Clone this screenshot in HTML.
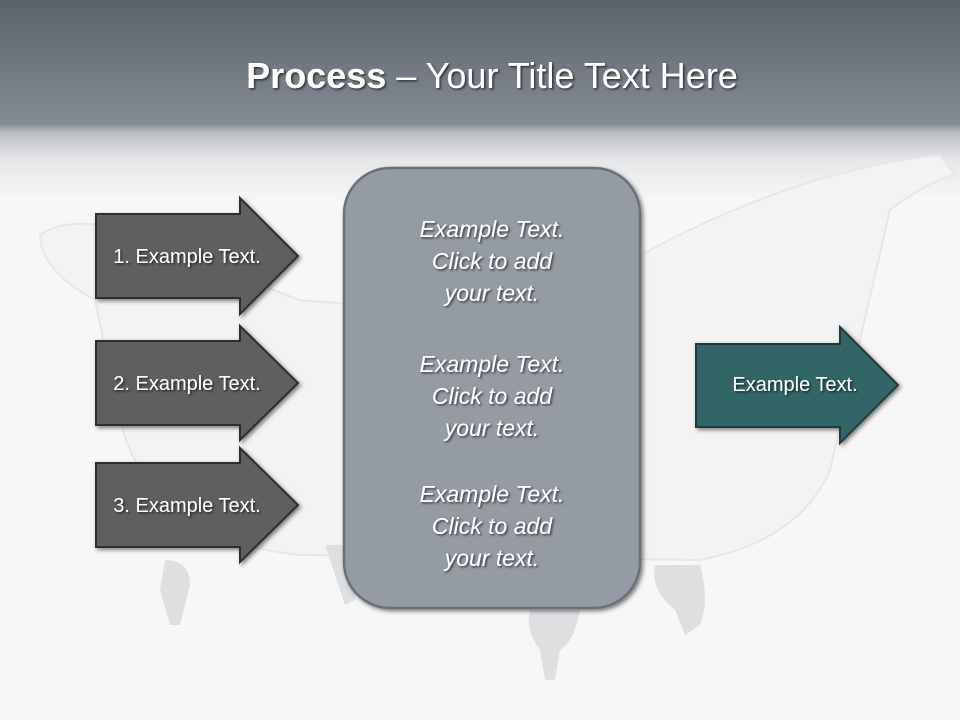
<!DOCTYPE html>
<html><head><meta charset="utf-8"><style>
html,body{margin:0;padding:0;width:960px;height:720px;overflow:hidden;background:#f7f7f7}
svg{display:block}
text{font-family:"Liberation Sans",sans-serif}
</style></head><body>
<svg width="960" height="720" viewBox="0 0 960 720" xmlns="http://www.w3.org/2000/svg">
<defs>
<linearGradient id="hdr" x1="0" y1="0" x2="0" y2="1">
<stop offset="0" stop-color="#5b626b"/>
<stop offset="0.62" stop-color="#858b94"/>
<stop offset="0.66" stop-color="#b9bcc1"/>
<stop offset="0.8" stop-color="#e6e7e9"/>
<stop offset="1" stop-color="#f7f7f7"/>
</linearGradient>
<filter id="sh" x="-20%" y="-20%" width="140%" height="140%"><feDropShadow dx="2" dy="2" stdDeviation="2" flood-color="#000" flood-opacity="0.5"/></filter>
<filter id="ts"><feDropShadow dx="1.5" dy="1.5" stdDeviation="1" flood-color="#000" flood-opacity="0.6"/></filter>
</defs>
<rect width="960" height="720" fill="#f7f7f7"/>
<rect width="960" height="200" fill="url(#hdr)"/>
<!-- bathtub -->
<path d="M40 235 Q60 220 100 225 L300 300 Q500 320 650 250 Q800 170 940 155 L955 175 Q930 180 890 210 L830 470 Q800 540 700 560 L300 555 Q150 540 120 420 L95 300 Q40 270 40 235Z" fill="#f3f3f4" stroke="#e6e7e9" stroke-width="2"/>
<g fill="#dedfe1">
<path d="M165 560 Q190 560 190 585 L180 625 L170 625 L160 590Z"/>
<path d="M655 565 L700 565 Q710 600 700 625 L685 635 L675 610 Q650 590 655 565Z"/>
<path d="M530 610 L580 610 Q575 640 560 650 L555 680 L545 680 L540 650 Q525 630 530 610Z"/>
<path d="M325 545 L360 545 L355 600 L345 605Z"/>
</g>
<text x="492" y="88" text-anchor="middle" font-size="36" fill="#fff" filter="url(#ts)"><tspan font-weight="bold">Process</tspan> – Your Title Text Here</text>
<!-- center box -->
<rect x="344" y="168" width="296" height="440" rx="46" fill="#959ba3" stroke="#6b7077" stroke-width="2.5" filter="url(#sh)"/>
<g font-size="23" font-style="italic" fill="#fff" text-anchor="middle" filter="url(#ts)">
<text x="492" y="237">Example Text.</text><text x="492" y="269">Click  to add</text><text x="492" y="301">your text.</text>
<text x="492" y="372">Example Text.</text><text x="492" y="404">Click  to add</text><text x="492" y="436">your text.</text>
<text x="492" y="502">Example Text.</text><text x="492" y="534">Click  to add</text><text x="492" y="566">your text.</text>
</g>
<!-- arrows -->
<g fill="#5e5e5e" stroke="#2e2e2e" stroke-width="2" filter="url(#sh)">
<path d="M96 214 H240 V198 L298 256 L240 314 V298 H96Z"/>
<path d="M96 341 H240 V326 L298 383 L240 440 V425 H96Z"/>
<path d="M96 463 H240 V448 L298 505 L240 562 V547 H96Z"/>
<path d="M696 344 H840 V327 L898 385 L840 443 V427 H696Z" fill="#336666" stroke="#1c3b3b"/>
</g>
<g font-size="20" fill="#fff" text-anchor="middle" filter="url(#ts)">
<text x="187" y="263">1. Example Text.</text>
<text x="187" y="390">2. Example Text.</text>
<text x="187" y="512">3. Example Text.</text>
<text x="795" y="391">Example Text.</text>
</g>
</svg>
</body></html>
